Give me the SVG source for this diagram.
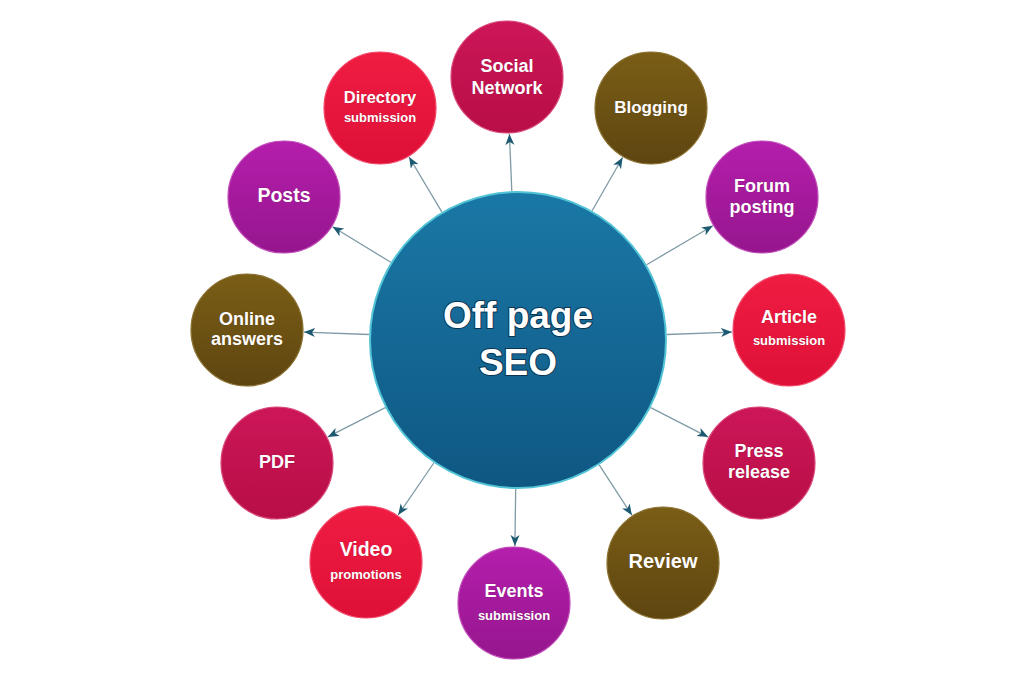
<svg xmlns="http://www.w3.org/2000/svg" width="1024" height="682" viewBox="0 0 1024 682">
<style>
.bg{fill:#ffffff}
.link{stroke:#7f9ba6;stroke-width:1.3;fill:none;marker-end:url(#arr)}
.node{stroke-width:1.2}
.red{fill:url(#gRed);stroke:#f24a6a}
.crim{fill:url(#gCrim);stroke:#d8487a}
.purp{fill:url(#gPurp);stroke:#c04ab8}
.brown{fill:url(#gBrown);stroke:#8a7030}
.t{font-family:"Liberation Sans",Arial,sans-serif;font-weight:bold;fill:#ffffff;text-anchor:middle;stroke:rgba(60,20,20,0.35);stroke-width:0.6;paint-order:stroke}
.s{font-size:13px}
.hub{font-family:"Liberation Sans",Arial,sans-serif;font-weight:bold;font-size:37px;fill:#ffffff;text-anchor:middle;stroke:#0b3550;stroke-width:2;paint-order:stroke}
</style>
<defs>
<marker id="arr" markerUnits="userSpaceOnUse" markerWidth="12" markerHeight="10" refX="11" refY="4.5" orient="auto">
<path d="M0,0 L11,4.5 L0,9 L3,4.5 z" fill="#1d5a72"/>
</marker>
<linearGradient id="gHub" x1="0" y1="0" x2="0" y2="1"><stop offset="0" stop-color="#1a78a6"/><stop offset="1" stop-color="#0f5783"/></linearGradient>
<linearGradient id="gRed" x1="0" y1="0" x2="0" y2="1"><stop offset="0" stop-color="#f01c42"/><stop offset="1" stop-color="#de1038"/></linearGradient>
<linearGradient id="gCrim" x1="0" y1="0" x2="0" y2="1"><stop offset="0" stop-color="#cc1658"/><stop offset="1" stop-color="#b80e46"/></linearGradient>
<linearGradient id="gPurp" x1="0" y1="0" x2="0" y2="1"><stop offset="0" stop-color="#b41eac"/><stop offset="1" stop-color="#96168e"/></linearGradient>
<linearGradient id="gBrown" x1="0" y1="0" x2="0" y2="1"><stop offset="0" stop-color="#7a5e16"/><stop offset="1" stop-color="#5e4510"/></linearGradient>
</defs>
<rect class="bg" x="0" y="0" width="1024" height="682"/>
<g id="connectors">
<line class="link" x1="511.8" y1="191.1" x2="509.4" y2="134"/>
<line class="link" x1="441.8" y1="211.9" x2="409.1" y2="157"/>
<line class="link" x1="592.1" y1="210.7" x2="622.6" y2="157.5"/>
<line class="link" x1="646.6" y1="264.7" x2="712.8" y2="225.8"/>
<line class="link" x1="666.9" y1="334.5" x2="732" y2="332.1"/>
<line class="link" x1="650.7" y1="407.7" x2="708.2" y2="437.1"/>
<line class="link" x1="599.2" y1="464.9" x2="631.9" y2="515.2"/>
<line class="link" x1="515.7" y1="489" x2="514.9" y2="546"/>
<line class="link" x1="433.8" y1="463" x2="398.2" y2="515"/>
<line class="link" x1="385.3" y1="407.7" x2="327.8" y2="436.9"/>
<line class="link" x1="369.1" y1="334.5" x2="304" y2="332.1"/>
<line class="link" x1="390.8" y1="262.3" x2="332.6" y2="226.7"/>
</g>
<g id="hub">
<circle cx="518" cy="340" r="148" fill="url(#gHub)" stroke="#52c4d6" stroke-width="2"/>
<text class="hub" x="518" y="328">Off page</text>
<text class="hub" x="518" y="375">SEO</text>
</g>
<g id="social-network">
<circle class="node crim" cx="507" cy="77" r="56"/>
<text class="t" x="507" y="72" font-size="18">Social</text>
<text class="t" x="507" y="94" font-size="18">Network</text>
</g>
<g id="directory-submission">
<circle class="node red" cx="380" cy="108" r="56"/>
<text class="t" x="380" y="103" font-size="16.5">Directory</text>
<text class="t s" x="380" y="122">submission</text>
</g>
<g id="blogging">
<circle class="node brown" cx="651" cy="108" r="56"/>
<text class="t" x="651" y="113" font-size="17">Blogging</text>
</g>
<g id="forum-posting">
<circle class="node purp" cx="762" cy="197" r="56"/>
<text class="t" x="762" y="192" font-size="18">Forum</text>
<text class="t" x="762" y="213" font-size="18">posting</text>
</g>
<g id="article-submission">
<circle class="node red" cx="789" cy="330" r="56"/>
<text class="t" x="789" y="323" font-size="18">Article</text>
<text class="t s" x="789" y="345">submission</text>
</g>
<g id="press-release">
<circle class="node crim" cx="759" cy="463" r="56"/>
<text class="t" x="759" y="457" font-size="18">Press</text>
<text class="t" x="759" y="478" font-size="18">release</text>
</g>
<g id="review">
<circle class="node brown" cx="663" cy="563" r="56"/>
<text class="t" x="663" y="568" font-size="20">Review</text>
</g>
<g id="events-submission">
<circle class="node purp" cx="514" cy="603" r="56"/>
<text class="t" x="514" y="597" font-size="18">Events</text>
<text class="t s" x="514" y="620">submission</text>
</g>
<g id="video-promotions">
<circle class="node red" cx="366" cy="562" r="56"/>
<text class="t" x="366" y="556" font-size="19.5">Video</text>
<text class="t s" x="366" y="579">promotions</text>
</g>
<g id="pdf">
<circle class="node crim" cx="277" cy="463" r="56"/>
<text class="t" x="277" y="468" font-size="18">PDF</text>
</g>
<g id="online-answers">
<circle class="node brown" cx="247" cy="330" r="56"/>
<text class="t" x="247" y="325" font-size="18">Online</text>
<text class="t" x="247" y="345" font-size="18">answers</text>
</g>
<g id="posts">
<circle class="node purp" cx="284" cy="197" r="56"/>
<text class="t" x="284" y="202" font-size="19.5">Posts</text>
</g>
</svg>
